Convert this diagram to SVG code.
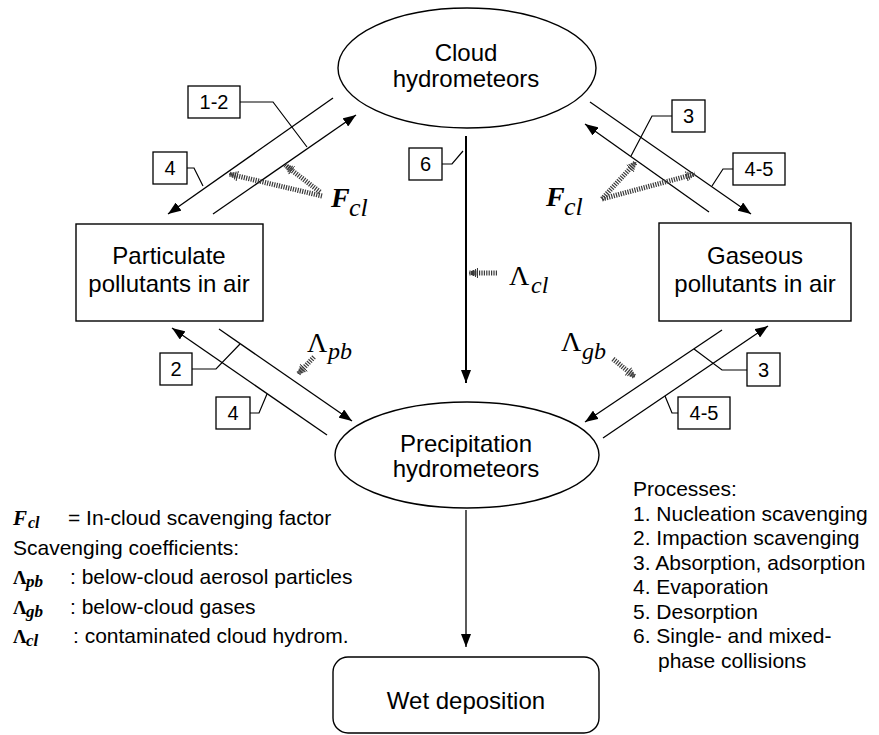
<svg xmlns="http://www.w3.org/2000/svg" width="879" height="735" viewBox="0 0 879 735">
<style>
.node{fill:#fff;stroke:#000;stroke-width:1.4}
.lbl{font-family:"Liberation Sans",Arial,sans-serif;font-size:24px;fill:#000;text-anchor:middle}
.num{font-family:"Liberation Sans",Arial,sans-serif;font-size:20px;fill:#000;text-anchor:middle}
.nbox{fill:#fff;stroke:#000;stroke-width:1.3}
.lead{fill:none;stroke:#000;stroke-width:1.2}
.arr{fill:none;stroke:#000;stroke-width:1.3;marker-end:url(#ah)}
.hatch{fill:none;stroke:#3a3a3a;stroke-width:5;stroke-dasharray:1.2 1.2;marker-end:url(#hh)}
.sym{font-family:"Liberation Serif","Times New Roman",serif;fill:#000}
.leg{font-family:"Liberation Sans",Arial,sans-serif;font-size:21px;fill:#000}
</style>
<defs>
<marker id="ah" markerUnits="userSpaceOnUse" viewBox="0 0 13 10" refX="13" refY="5" markerWidth="13" markerHeight="10" orient="auto">
<path d="M0,0 L13,5 L0,10 z" fill="#000"/>
</marker>
<marker id="hh" markerUnits="userSpaceOnUse" viewBox="0 0 9 11" refX="9" refY="5.5" markerWidth="9" markerHeight="11" orient="auto">
<path d="M0.5,0.5 V10.5 M2.5,1.5 V9.5 M4.5,2.5 V8.5 M6.5,3.5 V7.5 M8.5,4.8 V6.2" stroke="#3a3a3a" stroke-width="1.1"/>
</marker>
</defs>

<g id="cloud">
<ellipse class="node" cx="467" cy="68" rx="129" ry="60"/>
<text class="lbl" x="466" y="61">Cloud</text>
<text class="lbl" x="466" y="87">hydrometeors</text>
</g>
<g id="particulate">
<rect class="node" x="76" y="224" width="187" height="97"/>
<text class="lbl" x="169" y="264">Particulate</text>
<text class="lbl" x="169" y="292">pollutants in air</text>
</g>
<g id="gaseous">
<rect class="node" x="659" y="223" width="192" height="98"/>
<text class="lbl" x="755" y="264">Gaseous</text>
<text class="lbl" x="755" y="292">pollutants in air</text>
</g>
<g id="precipitation">
<ellipse class="node" cx="467" cy="455" rx="132" ry="53"/>
<text class="lbl" x="466" y="452">Precipitation</text>
<text class="lbl" x="466" y="477">hydrometeors</text>
</g>
<g id="wet">
<rect class="node" x="333" y="657" width="266" height="76" rx="15" ry="15"/>
<text class="lbl" x="466" y="709">Wet deposition</text>
</g>

<g id="connectors">
<path class="arr" d="M333,98 L168,214"/>
<path class="arr" d="M213,214 L356,115"/>
<path class="arr" d="M590,102 L751,214"/>
<path class="arr" d="M709,212 L585,124"/>
<path class="arr" d="M327,435 L172,328"/>
<path class="arr" d="M219,329 L352,421"/>
<path class="arr" d="M722,330 L585,422"/>
<path class="arr" d="M603,438 L768,326"/>
<path class="arr" d="M466,136 L466,383" style="stroke-width:2"/>
<path class="arr" d="M466,510 L466,647"/>
</g>

<g id="hatched">
<path class="hatch" d="M322,196 L229,174"/>
<path class="hatch" d="M320,192 L285,165"/>
<path class="hatch" d="M602,199 L636,162"/>
<path class="hatch" d="M602,199 L695,174"/>
<path class="hatch" d="M497,273 L469,273"/>
<path class="hatch" d="M314,357 L298,374"/>
<path class="hatch" d="M613,359 L635,377"/>
</g>

<g id="process-labels">
<path class="lead" d="M240,102 H273 L307,147"/>
<rect class="nbox" x="188" y="86" width="52" height="32"/>
<text class="num" x="214" y="109">1-2</text>
<path class="lead" d="M187,168 H194 L203,186"/>
<rect class="nbox" x="153" y="152" width="34" height="32"/>
<text class="num" x="170" y="175">4</text>
<path class="lead" d="M442,164 H452 L463,151"/>
<rect class="nbox" x="409" y="148" width="33" height="32"/>
<text class="num" x="425.5" y="171">6</text>
<path class="lead" d="M672,116 H652 L631,156"/>
<rect class="nbox" x="672" y="100" width="33" height="32"/>
<text class="num" x="688.5" y="123">3</text>
<path class="lead" d="M733,169 H723 L712,186"/>
<rect class="nbox" x="733" y="153" width="52" height="32"/>
<text class="num" x="759" y="176">4-5</text>
<path class="lead" d="M192,369 H216 L240,344"/>
<rect class="nbox" x="160" y="353" width="32" height="32"/>
<text class="num" x="176" y="376">2</text>
<path class="lead" d="M250,413 H259 L267,394"/>
<rect class="nbox" x="216" y="397" width="34" height="32"/>
<text class="num" x="233" y="420">4</text>
<path class="lead" d="M747,370 H722 L694,349"/>
<rect class="nbox" x="747" y="353" width="33" height="33"/>
<text class="num" x="763.5" y="377">3</text>
<path class="lead" d="M678,413 H672 L665,396"/>
<rect class="nbox" x="678" y="397" width="52" height="32"/>
<text class="num" x="704" y="420">4-5</text>
</g>

<g id="coefficient-labels">
<text class="sym" x="331" y="207" font-size="28" font-weight="bold" font-style="italic">F</text>
<text class="sym" x="349" y="216" font-size="26" font-style="italic">cl</text>
<text class="sym" x="546" y="206" font-size="28" font-weight="bold" font-style="italic">F</text>
<text class="sym" x="564" y="215" font-size="26" font-style="italic">cl</text>
<text class="sym" x="509" y="285" font-size="28">Λ</text>
<text class="sym" x="531" y="293" font-size="24" font-style="italic">cl</text>
<text class="sym" x="307" y="352" font-size="28">Λ</text>
<text class="sym" x="328" y="359" font-size="24" font-style="italic">pb</text>
<text class="sym" x="561" y="351" font-size="28">Λ</text>
<text class="sym" x="582" y="359" font-size="24" font-style="italic">gb</text>
</g>

<g id="legend-left">
<text class="sym" x="13" y="525" font-size="21" font-weight="bold" font-style="italic">F</text>
<text class="sym" x="28" y="528" font-size="16" font-weight="bold" font-style="italic">cl</text>
<text class="leg" x="68" y="525">= In-cloud scavenging factor</text>
<text class="leg" x="13" y="554.5">Scavenging coefficients:</text>
<text class="sym" x="13" y="584" font-size="19" font-weight="bold">Λ</text>
<text class="sym" x="26" y="587" font-size="17" font-weight="bold" font-style="italic">pb</text>
<text class="leg" x="70" y="584">: below-cloud aerosol particles</text>
<text class="sym" x="13" y="613.5" font-size="19" font-weight="bold">Λ</text>
<text class="sym" x="26" y="616.5" font-size="17" font-weight="bold" font-style="italic">gb</text>
<text class="leg" x="70" y="613.5">: below-cloud gases</text>
<text class="sym" x="13" y="643" font-size="19" font-weight="bold">Λ</text>
<text class="sym" x="26" y="646" font-size="17" font-weight="bold" font-style="italic">cl</text>
<text class="leg" x="73" y="643">: contaminated cloud hydrom.</text>
</g>

<g id="legend-right">
<text class="leg" x="633" y="496">Processes:</text>
<text class="leg" x="633" y="520.5">1. Nucleation scavenging</text>
<text class="leg" x="633" y="545">2. Impaction scavenging</text>
<text class="leg" x="633" y="569.5">3. Absorption, adsorption</text>
<text class="leg" x="633" y="594">4. Evaporation</text>
<text class="leg" x="633" y="618.5">5. Desorption</text>
<text class="leg" x="633" y="643">6. Single- and mixed-</text>
<text class="leg" x="658" y="667.5">phase collisions</text>
</g>
</svg>
